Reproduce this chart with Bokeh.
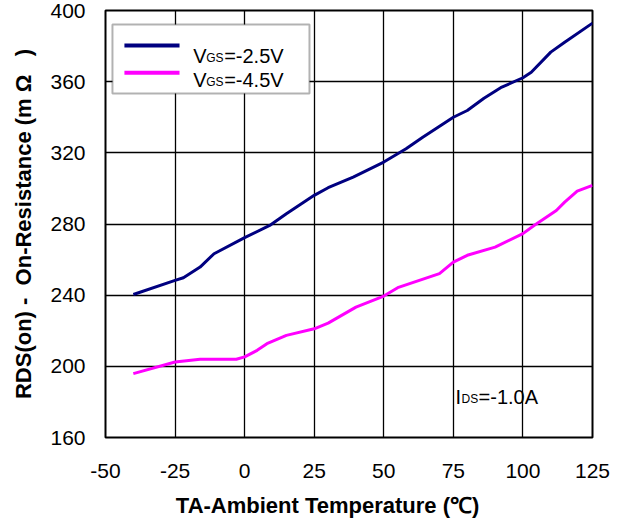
from bokeh.plotting import figure
from bokeh.models import (FixedTicker, BoxAnnotation, Label, Arrow, Range1d)
from bokeh.embed import file_html
from bokeh.resources import INLINE

# ---- data ----
temp_vgs25 = [-40, -25, -22, -16, -11, 0, 9, 15, 25, 30, 39, 50, 58, 64, 75, 80, 86, 92, 100, 103, 110, 115, 125]
rds_vgs25 = [240.4, 248.3, 249.8, 255.8, 263.3, 272.3, 279.2, 285.8, 296.1, 300.4, 306.4, 314.8,
             322.3, 328.8, 340.0, 343.8, 350.7, 356.6, 362.2, 365.3, 376.6, 382.2, 392.9]
temp_vgs45 = [-40, -25, -16, -3, 0, 4.5, 8, 15, 25, 30, 40, 50, 55, 70, 75, 80, 90, 100, 104, 112, 115, 119.5, 125]
rds_vgs45 = [195.9, 202.4, 204.0, 204.0, 205.3, 209.0, 212.7, 217.4, 221.1, 224.3, 233.3, 239.5,
             244.2, 252.1, 258.6, 262.4, 267.0, 274.6, 279.2, 287.6, 292.3, 298.5, 301.7]
x_ticks = [-50, -25, 0, 25, 50, 75, 100, 125]
x_tick_labels = ["-50", "-25", "0", "25", "50", "75", "100", "125"]
y_ticks = [160, 200, 240, 280, 320, 360, 400]
y_tick_labels = ["160", "200", "240", "280", "320", "360", "400"]
series_names = [("V", "GS", "=-2.5V"), ("V", "GS", "=-4.5V")]
note_parts = ("I", "DS", "=-1.0A")
NB = "\u00a0"
x_title = "TA-Ambient Temperature (℃)" + NB * 7
y_title = "RDS(on) -" + NB * 2 + "On-Resistance (m Ω" + NB * 3 + ")"

FONT = "Liberation Sans"
BLUE = "#000080"
PINK = "#FF00FF"

p = figure(width=624, height=526, output_backend="svg", toolbar_location=None,
           x_range=Range1d(-50, 125), y_range=Range1d(160, 400),
           min_border_left=105, min_border_right=32, min_border_top=10, min_border_bottom=89)
p.background_fill_color = "white"
p.border_fill_color = "white"
p.outline_line_color = "black"
p.outline_line_width = 2

for ax in (p.xaxis[0], p.yaxis[0]):
    ax.axis_line_color = None
    ax.major_tick_in = 0
    ax.major_tick_out = 0
    ax.minor_tick_line_color = None
    ax.major_label_text_font = FONT
    ax.major_label_text_font_size = "21px"
    ax.major_label_text_color = "black"
    ax.axis_label_text_font = FONT
    ax.axis_label_text_font_style = "bold"
    ax.axis_label_text_font_size = "22px"
    ax.axis_label_text_color = "black"

p.xaxis.ticker = FixedTicker(ticks=x_ticks)
p.yaxis.ticker = FixedTicker(ticks=y_ticks)
p.xaxis.major_label_overrides = {t: s for t, s in zip(x_ticks, x_tick_labels)}
p.yaxis.major_label_overrides = {t: s for t, s in zip(y_ticks, y_tick_labels)}
p.xaxis.major_label_standoff = 26
p.yaxis.major_label_standoff = 20
p.xaxis.axis_label = x_title
p.yaxis.axis_label = y_title
p.xaxis.axis_label_standoff = 12
p.yaxis.axis_label_standoff = 11

p.grid.grid_line_color = "black"
p.grid.grid_line_width = 1.3
p.grid.grid_line_alpha = 1

p.line(temp_vgs25, rds_vgs25, line_color=BLUE, line_width=3)
p.line(temp_vgs45, rds_vgs45, line_color=PINK, line_width=3)

# ---- custom legend ----
p.add_layout(BoxAnnotation(left=-47.5, right=23.3, bottom=353.3, top=392.1,
                           fill_color="white", fill_alpha=1,
                           line_color="black", line_width=2, level="overlay"))
legend_rows = [(380.3, 374.7, BLUE), (365.0, 361.0, PINK)]
for (ly, ty, col), parts in zip(legend_rows, series_names):
    p.add_layout(Arrow(x_start=-43.2, y_start=ly, x_end=-23.4, y_end=ly, end=None,
                       line_color=col, line_width=4, level="overlay"))
    offs = [0, 13, 31]
    sizes = ["20px", "12px", "20px"]
    dys = [0, -2, 0]
    for txt, ox, fs, dy in zip(parts, offs, sizes, dys):
        p.add_layout(Label(x=-18.5, y=ty, x_offset=ox, y_offset=dy, text=txt,
                           text_font=FONT, text_font_size=fs, text_color="black",
                           text_baseline="alphabetic", level="overlay"))

for txt, ox, fs, dy in zip(note_parts, [0, 6, 23], ["20px", "12px", "20px"], [0, -2, 0]):
    p.add_layout(Label(x=75.8, y=183.0, x_offset=ox, y_offset=dy, text=txt,
                       text_font=FONT, text_font_size=fs, text_color="black",
                       text_baseline="alphabetic"))

open("out.html", "w").write(file_html(p, INLINE))
